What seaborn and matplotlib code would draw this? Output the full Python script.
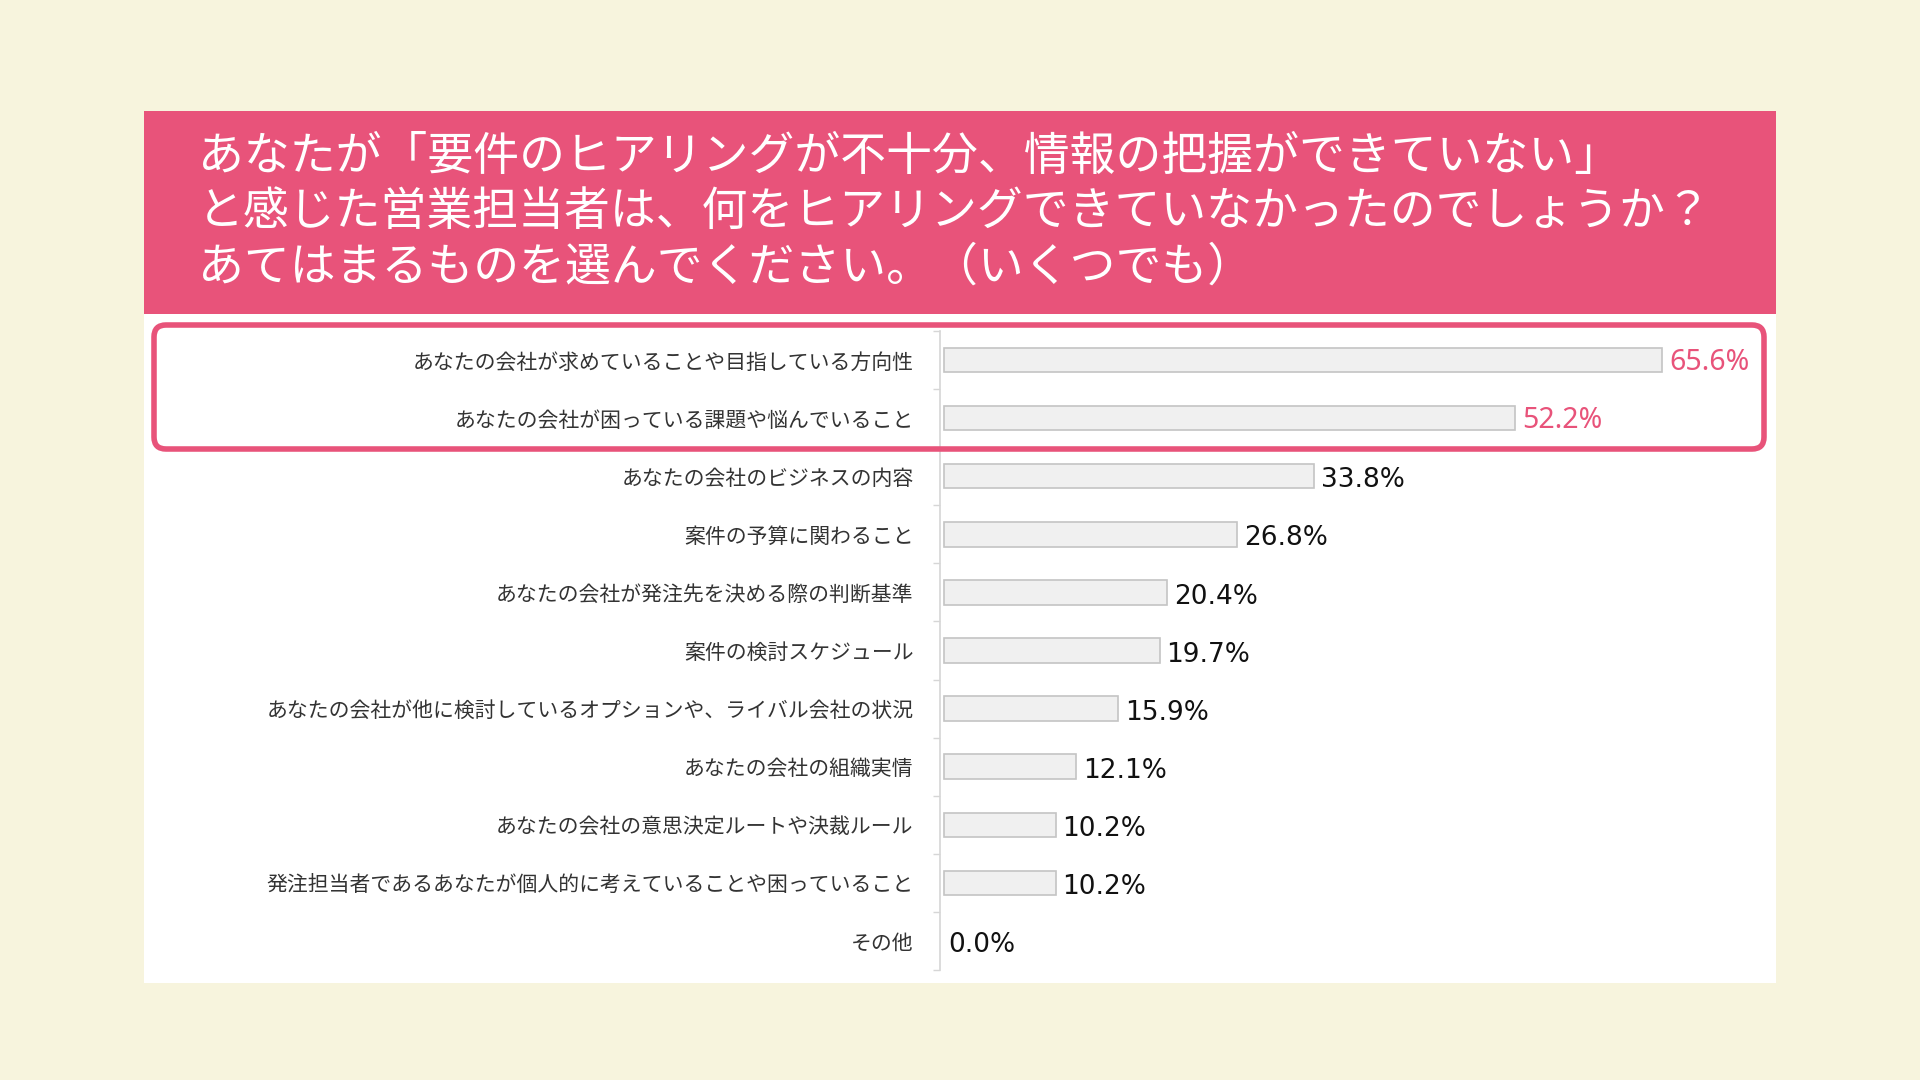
import matplotlib.pyplot as plt
import seaborn as sns
import pandas as pd
from matplotlib.patches import Rectangle, FancyBboxPatch

# Data
categories = [
    "あなたの会社が求めていることや目指している方向性",
    "あなたの会社が困っている課題や悩んでいること",
    "あなたの会社のビジネスの内容",
    "案件の予算に関わること",
    "あなたの会社が発注先を決める際の判断基準",
    "案件の検討スケジュール",
    "あなたの会社が他に検討しているオプションや、ライバル会社の状況",
    "あなたの会社の組織実情",
    "あなたの会社の意思決定ルートや決裁ルール",
    "発注担当者であるあなたが個人的に考えていることや困っていること",
    "その他",
]
values = [65.6, 52.2, 33.8, 26.8, 20.4, 19.7, 15.9, 12.1, 10.2, 10.2, 0.0]
highlight_count = 2
title_lines = [
    "あなたが「要件のヒアリングが不十分、情報の把握ができていない」",
    "と感じた営業担当者は、何をヒアリングできていなかったのでしょうか？",
    "あてはまるものを選んでください。（いくつでも）",
]

BG = "#F7F4DD"
PINK = "#E8537A"
JP = ["Noto Sans CJK JP", "DejaVu Sans"]

sns.set_theme(style="white")
plt.rcParams["font.family"] = JP

df = pd.DataFrame({"category": categories, "value": values})

fig = plt.figure(figsize=(19.2, 10.8), dpi=100)
fig.patch.set_facecolor(BG)

# background layer in pixel coords
bg = fig.add_axes([0, 0, 1, 1], zorder=0)
bg.set_xlim(0, 1920)
bg.set_ylim(1080, 0)
bg.axis("off")
bg.add_patch(Rectangle((144, 111), 1632, 872, facecolor="white", edgecolor="none"))
bg.add_patch(Rectangle((144, 111), 1632, 203, facecolor=PINK, edgecolor="none"))

for i, line in enumerate(title_lines):
    bg.text(198, 157 + i * 55, line, color="white", fontsize=33,
            ha="left", va="center", family=JP)

# bar chart
px_per_unit = 718 / 65.6
ax = fig.add_axes([940 / 1920, 1 - 970 / 1080, (1776 - 940) / 1920, 639 / 1080], zorder=1)
ax.set_facecolor("none")
sns.barplot(data=df, x="value", y="category", orient="h", ax=ax,
            color="#F0F0F0", edgecolor="#C4C4C4", linewidth=1.2, width=0.42,
            saturation=1)
# no outline for empty bars
for bar, v in zip(ax.containers[0], values):
    if v == 0:
        bar.set_linewidth(0)
ax.set_xlim(-4 / px_per_unit, (836 - 4) / px_per_unit)
ax.set_ylim(len(categories) - 0.5, -0.5)
ax.set_xlabel("")
ax.set_ylabel("")
ax.set_xticks([])
ax.tick_params(axis="y", length=0, pad=19, labelsize=15, labelcolor="#333333")
ax.set_yticks([i - 0.5 for i in range(len(categories) + 1)], minor=True)
ax.set_yticks(range(len(categories)))
ax.set_yticklabels(categories)
ax.tick_params(axis="y", which="minor", length=5, width=1, color="#D6D6D6", left=True)
for s in ["top", "right", "bottom"]:
    ax.spines[s].set_visible(False)
ax.spines["left"].set_color("#D6D6D6")
ax.spines["left"].set_linewidth(1.2)

labels = [f"{v:.1f}%" for v in values]
texts = ax.bar_label(ax.containers[0], labels=labels, padding=5,
                     fontsize=19, color="#111111", family=["DejaVu Sans"])
for i, t in enumerate(texts):
    if i < highlight_count:
        t.set_color(PINK)
        t.set_family(["Noto Sans", "DejaVu Sans"])
        t.set_fontsize(20.5)
        t.xyann = (5, -1.5)
    else:
        t.xyann = (3 if values[i] == 0 else 5, -3)

# highlight frame
top = fig.add_axes([0, 0, 1, 1], zorder=2)
top.set_xlim(0, 1920)
top.set_ylim(1080, 0)
top.axis("off")
top.patch.set_alpha(0)
top.add_patch(FancyBboxPatch((154, 325), 1610, 124,
                             boxstyle="round,pad=0,rounding_size=12",
                             facecolor="none", edgecolor=PINK, linewidth=4))

fig.savefig("out.png", dpi=100, facecolor=BG)
